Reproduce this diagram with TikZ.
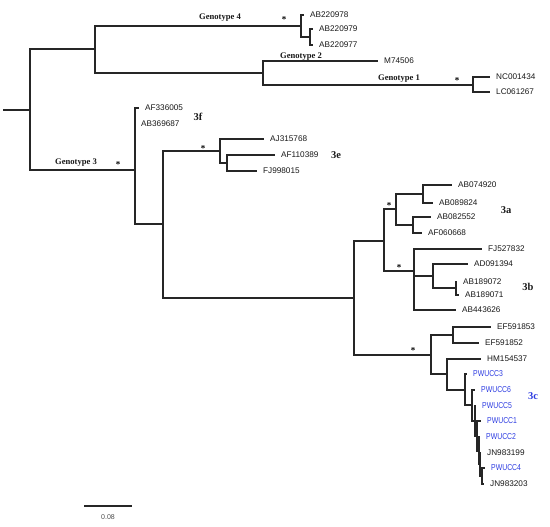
\documentclass[tikz,border=0pt]{standalone}
\usepackage{fontspec}
\setmainfont{Liberation Serif}
\setsansfont{Liberation Sans}
\definecolor{pwblue}{RGB}{45,60,225}
\definecolor{txt}{RGB}{25,25,25}
\newcommand{\pwtxt}[1]{\scalebox{0.8}[1]{#1}}
\begin{document}
\begin{tikzpicture}[x=1pt,y=-1pt,
  br/.style={line width=1.4pt,color=black!85},
  tip/.style={anchor=west,inner xsep=6pt,inner ysep=1pt,font=\sffamily\fontsize{8.2}{9}\selectfont,text=txt},
  pw/.style={tip,font=\sffamily\fontsize{8.6}{9}\selectfont,text=pwblue},
  geno/.style={font=\bfseries\fontsize{8.6}{9}\selectfont,text=txt,inner sep=0pt},
  clade/.style={font=\bfseries\fontsize{10.5}{12}\selectfont,text=txt,inner sep=0pt},
  star/.style={font=\bfseries\fontsize{9}{9}\selectfont,inner sep=0pt}]
\useasboundingbox (0,0) rectangle (550,527);
% internal nodes
\coordinate (rs) at (3,110);
\coordinate (root) at (30,110);
\coordinate (n95) at (95,49);
\coordinate (g4) at (301,26);
\coordinate (g4i) at (310,37);
\coordinate (n263) at (263,73);
\coordinate (g1) at (473,85);
\coordinate (n135) at (135,170);
\coordinate (n163) at (163,224);
\coordinate (e3) at (220,151);
\coordinate (e3i) at (227,163);
\coordinate (big) at (354,298);
\coordinate (ab) at (384,241);
\coordinate (a) at (396,209);
\coordinate (a1) at (423,194);
\coordinate (a2) at (413,225);
\coordinate (b) at (414,271);
\coordinate (bi) at (433,276);
\coordinate (bii) at (456,288);
\coordinate (c) at (431,355);
\coordinate (ef) at (453,335);
\coordinate (cB) at (447,374);
\coordinate (p1) at (465,390);
\coordinate (p2) at (472,405);
\coordinate (p3) at (475,421);
\coordinate (p4) at (477,436);
\coordinate (p5) at (479,451);
\coordinate (p6) at (480,464);
\coordinate (p7) at (482,476);
% tips
\node[tip] (t1) at (304,15) {AB220978};
\node[tip] (t2) at (313,29) {AB220979};
\node[tip] (t3) at (313,45) {AB220977};
\node[tip] (t4) at (378,61) {M74506};
\node[tip] (t5) at (490,77) {NC001434};
\node[tip] (t6) at (490,92) {LC061267};
\node[tip] (t7) at (139,108) {AF336005};
\node[tip] (t8) at (135,124) {AB369687};
\node[tip] (t9) at (264,139) {AJ315768};
\node[tip] (t10) at (275,155) {AF110389};
\node[tip] (t11) at (257,171) {FJ998015};
\node[tip] (t12) at (452,185) {AB074920};
\node[tip] (t13) at (433,203) {AB089824};
\node[tip] (t14) at (431,217) {AB082552};
\node[tip] (t15) at (422,233) {AF060668};
\node[tip] (t16) at (482,249) {FJ527832};
\node[tip] (t17) at (468,264) {AD091394};
\node[tip] (t18) at (457,282) {AB189072};
\node[tip] (t19) at (459,295) {AB189071};
\node[tip] (t20) at (456,310) {AB443626};
\node[tip] (t21) at (491,327) {EF591853};
\node[tip] (t22) at (479,343) {EF591852};
\node[tip] (t23) at (481,359) {HM154537};
\node[pw] (t24) at (467,374) {\pwtxt{PWUCC3}};
\node[pw] (t25) at (475,390) {\pwtxt{PWUCC6}};
\node[pw] (t26) at (476,406) {\pwtxt{PWUCC5}};
\node[pw] (t27) at (481,421) {\pwtxt{PWUCC1}};
\node[pw] (t28) at (480,437) {\pwtxt{PWUCC2}};
\node[tip] (t29) at (481,453) {JN983199};
\node[pw] (t30) at (485,468) {\pwtxt{PWUCC4}};
\node[tip] (t31) at (484,484) {JN983203};
% branches
\draw[br] (rs) -- (root);
\draw[br] (root) |- (n95);
\draw[br] (root) |- (n135);
\draw[br] (n95) |- (g4);
\draw[br] (n95) |- (n263);
\draw[br] (g4) |- (t1.west);
\draw[br] (g4) |- (g4i);
\draw[br] (g4i) |- (t2.west);
\draw[br] (g4i) |- (t3.west);
\draw[br] (n263) |- (t4.west);
\draw[br] (n263) |- (g1);
\draw[br] (g1) |- (t5.west);
\draw[br] (g1) |- (t6.west);
\draw[br] (n135) |- (t7.west);
\draw[br] (n135) |- (t8.west);
\draw[br] (n135) |- (n163);
\draw[br] (n163) |- (e3);
\draw[br] (n163) |- (big);
\draw[br] (e3) |- (t9.west);
\draw[br] (e3) |- (e3i);
\draw[br] (e3i) |- (t10.west);
\draw[br] (e3i) |- (t11.west);
\draw[br] (big) |- (ab);
\draw[br] (big) |- (c);
\draw[br] (ab) |- (a);
\draw[br] (ab) |- (b);
\draw[br] (a) |- (a1);
\draw[br] (a) |- (a2);
\draw[br] (a1) |- (t12.west);
\draw[br] (a1) |- (t13.west);
\draw[br] (a2) |- (t14.west);
\draw[br] (a2) |- (t15.west);
\draw[br] (b) |- (t16.west);
\draw[br] (b) |- (bi);
\draw[br] (b) |- (t20.west);
\draw[br] (bi) |- (t17.west);
\draw[br] (bi) |- (bii);
\draw[br] (bii) |- (t18.west);
\draw[br] (bii) |- (t19.west);
\draw[br] (c) |- (ef);
\draw[br] (c) |- (cB);
\draw[br] (ef) |- (t21.west);
\draw[br] (ef) |- (t22.west);
\draw[br] (cB) |- (t23.west);
\draw[br] (cB) |- (p1);
\draw[br] (p1) |- (t24.west);
\draw[br] (p1) |- (p2);
\draw[br] (p2) |- (t25.west);
\draw[br] (p2) |- (p3);
\draw[br] (p3) |- (t26.west);
\draw[br] (p3) |- (p4);
\draw[br] (p4) |- (t27.west);
\draw[br] (p4) |- (p5);
\draw[br] (p5) |- (t28.west);
\draw[br] (p5) |- (p6);
\draw[br] (p6) |- (t29.west);
\draw[br] (p6) |- (p7);
\draw[br] (p7) |- (t30.west);
\draw[br] (p7) |- (t31.west);
% genotype labels
\node[geno] (lg4) at (220,18) {Genotype 4};
\node[geno] (lg2) at (301,57) {Genotype 2};
\node[geno] (lg1) at (399,79) {Genotype 1};
\node[geno] (lg3) at (76,163) {Genotype 3};
% asterisks
\node[star] (s1) at (284,20) {*};
\node[star] (s2) at (457,81) {*};
\node[star] (s3) at (118,165) {*};
\node[star] (s4) at (203,149) {*};
\node[star] (s5) at (389,206) {*};
\node[star] (s6) at (399,268) {*};
\node[star] (s7) at (413,351) {*};
% clade labels
\node[clade] (c3f) at (198,117) {3f};
\node[clade] (c3e) at (336,155) {3e};
\node[clade] (c3a) at (506,210) {3a};
\node[clade] (c3b) at (528,287) {3b};
\node[clade,text=pwblue] (c3c) at (533,396) {3c};
% scale bar
\coordinate (sb1) at (84,506);
\coordinate (sb2) at (132,506);
\draw[br] (sb1) -- (sb2);
\node[font=\sffamily\fontsize{7}{8}\selectfont,text=black!70] (sbl) at (108,517) {0.08};
\end{tikzpicture}
\end{document}
